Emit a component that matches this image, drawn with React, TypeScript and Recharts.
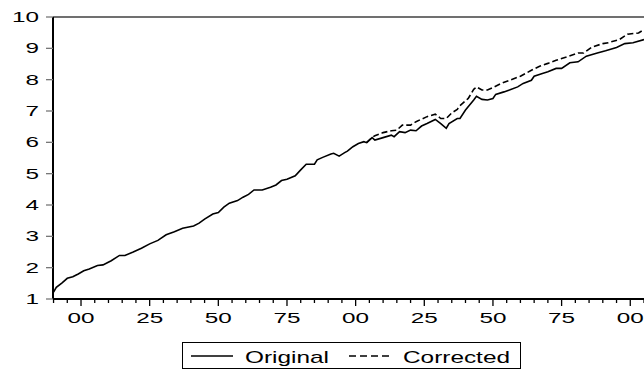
import { LineChart, Line, XAxis, YAxis, ReferenceLine } from 'recharts'

// annual series (x = year, y = value)
const originalYears = [
  1890, 1891, 1893, 1895, 1897, 1899, 1901, 1903, 1906, 1908, 1911, 1914, 1916, 1919, 1922, 1925, 1928, 1931,
  1934, 1937, 1941, 1943, 1945, 1948, 1950, 1952, 1954, 1957, 1959, 1961, 1963, 1966, 1969, 1971, 1973, 1975,
  1978, 1980, 1982, 1985, 1986, 1988, 1991, 1992, 1994, 1996, 1997, 1999, 2001, 2003, 2004, 2006, 2007, 2010,
  2013, 2014, 2016, 2018, 2020, 2022, 2024, 2026, 2029, 2031, 2033, 2034, 2037, 2038, 2040, 2043, 2044, 2046,
  2048, 2050, 2051, 2054, 2056, 2059, 2061, 2064, 2065, 2068, 2070, 2073, 2075, 2078, 2081, 2084, 2088, 2091,
  2095, 2098, 2101, 2105,
]
const originalValues = [
  1.22, 1.37, 1.51, 1.66, 1.71, 1.8, 1.9, 1.96, 2.07, 2.09, 2.22, 2.39, 2.39, 2.5, 2.62, 2.76, 2.87, 3.05,
  3.15, 3.26, 3.33, 3.42, 3.55, 3.71, 3.76, 3.93, 4.06, 4.14, 4.25, 4.34, 4.48, 4.48, 4.57, 4.64, 4.78, 4.82,
  4.93, 5.12, 5.3, 5.3, 5.44, 5.52, 5.63, 5.65, 5.56, 5.67, 5.72, 5.86, 5.96, 6.02, 5.99, 6.15, 6.07, 6.15,
  6.23, 6.18, 6.34, 6.31, 6.39, 6.37, 6.52, 6.6, 6.73, 6.6, 6.45, 6.6, 6.76, 6.76, 7.03, 7.35, 7.47, 7.37,
  7.35, 7.4, 7.53, 7.61, 7.67, 7.77, 7.88, 7.98, 8.11, 8.2, 8.25, 8.36, 8.36, 8.54, 8.57, 8.75, 8.85, 8.92,
  9.03, 9.15, 9.18, 9.28,
]

const correctedYears = [
  2004, 2006, 2007, 2010, 2013, 2015, 2017, 2020, 2022, 2026, 2029, 2031, 2033, 2035, 2037, 2038, 2041, 2043,
  2044, 2046, 2048, 2050, 2053, 2056, 2060, 2064, 2067, 2070, 2073, 2077, 2081, 2083, 2086, 2090, 2092, 2096,
  2099, 2103, 2105,
]
const correctedValues = [
  5.99, 6.16, 6.21, 6.31, 6.37, 6.39, 6.55, 6.55, 6.66, 6.82, 6.9, 6.76, 6.76, 6.94, 7.05, 7.17, 7.4, 7.69,
  7.77, 7.67, 7.67, 7.75, 7.88, 7.98, 8.11, 8.3, 8.43, 8.52, 8.62, 8.73, 8.85, 8.85, 9.04, 9.15, 9.18, 9.28,
  9.45, 9.49, 9.6,
]

const yTicks = [1, 2, 3, 4, 5, 6, 7, 8, 9, 10]
const xTicks = Array.from({ length: 44 }, (_, i) => 1890 + i * 5)

const original = originalYears.map((year, i) => ({ year, value: originalValues[i] }))
const corrected = correctedYears.map((year, i) => ({ year, value: correctedValues[i] }))

const FONT = '"Liberation Sans", Arial, sans-serif'

function YearTick({ x, y, payload }: any) {
  const v = payload.value as number
  const major = v % 25 === 0
  const label = String(v % 100).padStart(2, '0')
  return (
    <g>
      <line x1={x} x2={x} y1={y} y2={y + (major ? 7 : 4)} stroke="#000" strokeWidth={1.3} />
      {major && (
        <text
          x={x - 13.5}
          y={y + 24}
          fontSize={14}
          fontFamily={FONT}
          fill="#000"
          textLength={27}
          lengthAdjust="spacingAndGlyphs"
        >
          {label}
        </text>
      )}
    </g>
  )
}

function ValueTick({ x, y, payload }: any) {
  const label = String(payload.value)
  const w = label.length * 13.5
  return (
    <text
      x={x - w}
      y={y + 5}
      fontSize={14}
      fontFamily={FONT}
      fill="#000"
      textLength={w}
      lengthAdjust="spacingAndGlyphs"
    >
      {label}
    </text>
  )
}

function ChartLegend() {
  return (
    <svg width={340} height={27} style={{ position: 'absolute', left: 182, top: 342 }}>
      <rect x={0.5} y={0.5} width={338} height={26} fill="#fff" stroke="#000" strokeWidth={1} />
      <line x1={9} x2={51} y1={14} y2={14} stroke="#000" strokeWidth={1.5} />
      <text x={63} y={21} fontSize={17} fontFamily={FONT} textLength={84} lengthAdjust="spacingAndGlyphs">
        Original
      </text>
      <line x1={167} x2={211} y1={14} y2={14} stroke="#000" strokeWidth={1.5} strokeDasharray="7 4" />
      <text x={221} y={21} fontSize={17} fontFamily={FONT} textLength={107} lengthAdjust="spacingAndGlyphs">
        Corrected
      </text>
    </svg>
  )
}

export default function App() {
  return (
    <div style={{ position: 'absolute', left: 0, top: 0, width: 644, height: 369, background: '#fff', overflow: 'hidden' }}>
      <LineChart width={644} height={369} margin={{ top: 17, right: 0, left: 0, bottom: 40 }}>
        <XAxis
          dataKey="year"
          type="number"
          domain={[1889.8, 2105]}
          allowDataOverflow
          ticks={xTicks}
          interval={0}
          height={30}
          tickSize={0}
          tickMargin={0}
          tickLine={false}
          axisLine={{ stroke: '#000', strokeWidth: 2 }}
          tick={<YearTick />}
        />
        <YAxis
          type="number"
          domain={[1, 10]}
          ticks={yTicks}
          interval={0}
          width={53}
          tickSize={7}
          tickMargin={7}
          tickLine={{ stroke: '#777', strokeWidth: 1.3 }}
          axisLine={{ stroke: '#000', strokeWidth: 2 }}
          tick={<ValueTick />}
        />
        <ReferenceLine y={10} stroke="#707070" strokeWidth={2} />
        <Line
          data={original}
          dataKey="value"
          type="linear"
          stroke="#000"
          strokeWidth={1.6}
          dot={false}
          isAnimationActive={false}
        />
        <Line
          data={corrected}
          dataKey="value"
          type="linear"
          stroke="#000"
          strokeWidth={1.6}
          strokeDasharray="6 3"
          dot={false}
          isAnimationActive={false}
        />
      </LineChart>
      <ChartLegend />
    </div>
  )
}
